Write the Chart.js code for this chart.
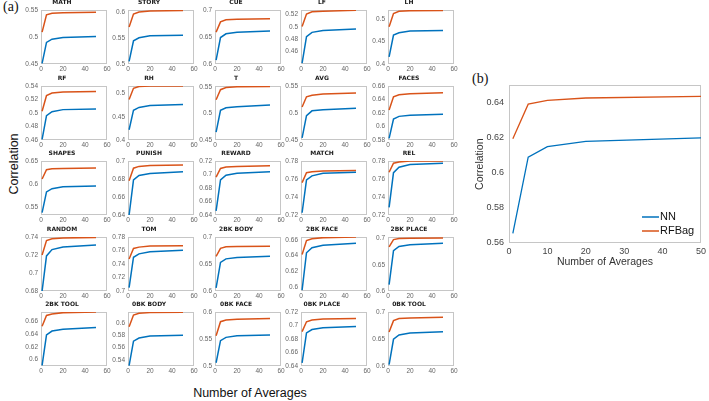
<!DOCTYPE html>
<html>
<head>
<meta charset="utf-8">
<script src="https://cdn.jsdelivr.net/npm/chart.js@4.4.1/dist/chart.umd.min.js"></script>
<style>
  body { margin: 0; background: #fff; }
  #fig { position: relative; width: 709px; height: 401px; overflow: hidden; font-family: "Liberation Sans", Arial, sans-serif; }
  #fig canvas { position: absolute; }
  .lbl { position: absolute; color: #111; white-space: nowrap; }
  .serif { font-family: "Liberation Serif", serif; font-size: 14px; }
</style>
</head>
<body>
<div id="fig">
  <div class="lbl serif" style="left:3px;top:-1px;">(a)</div>
  <div class="lbl serif" style="left:472px;top:71px;">(b)</div>
  <div class="lbl" style="left:14px;top:164px;font-size:12.5px;transform:translate(-50%,-50%) rotate(-90deg);">Correlation</div>
  <div class="lbl" style="left:250px;top:393px;font-size:12.5px;transform:translate(-50%,-50%);">Number of Averages</div>
</div>
<script>
// x positions of the points (number of averages)
const averages = [1, 5, 10, 20, 50];
const xTicksSmall = [0, 20, 40, 60];
const xTicksBig = [0, 10, 20, 30, 40, 50];

const panelTitles = ['MATH', 'STORY', 'CUE', 'LF', 'LH',
  'RF', 'RH', 'T', 'AVG', 'FACES',
  'SHAPES', 'PUNISH', 'REWARD', 'MATCH', 'REL',
  'RANDOM', 'TOM', '2BK BODY', '2BK FACE', '2BK PLACE',
  '2BK TOOL', '0BK BODY', '0BK FACE', '0BK PLACE', '0BK TOOL'];

const nnValues = [
  [0.451, 0.490, 0.496, 0.499, 0.501],
  [0.505, 0.545, 0.551, 0.555, 0.556],
  [0.607, 0.649, 0.656, 0.659, 0.661],
  [0.4415, 0.484, 0.491, 0.494, 0.4965],
  [0.416, 0.465, 0.470, 0.474, 0.475],
  [0.461, 0.496, 0.502, 0.505, 0.506],
  [0.422, 0.464, 0.470, 0.474, 0.476],
  [0.465, 0.506, 0.511, 0.513, 0.516],
  [0.454, 0.495, 0.504, 0.506, 0.509],
  [0.5825, 0.611, 0.615, 0.6165, 0.618],
  [0.538, 0.583, 0.590, 0.594, 0.596],
  [0.640, 0.679, 0.684, 0.686, 0.688],
  [0.646, 0.692, 0.699, 0.702, 0.704],
  [0.7225, 0.759, 0.7635, 0.7665, 0.7675],
  [0.7285, 0.767, 0.773, 0.776, 0.7775],
  [0.680, 0.719, 0.726, 0.729, 0.731],
  [0.705, 0.750, 0.755, 0.758, 0.7605],
  [0.606, 0.653, 0.6595, 0.662, 0.6645],
  [0.596, 0.6435, 0.650, 0.653, 0.6555],
  [0.612, 0.677, 0.685, 0.688, 0.691],
  [0.591, 0.639, 0.645, 0.648, 0.6505],
  [0.5305, 0.5705, 0.5755, 0.579, 0.580],
  [0.506, 0.547, 0.553, 0.556, 0.5575],
  [0.6445, 0.689, 0.694, 0.6965, 0.6985],
  [0.6025, 0.6495, 0.6575, 0.661, 0.6635]
];

const rfValues = [
  [0.509, 0.541, 0.544, 0.545, 0.546],
  [0.572, 0.597, 0.601, 0.603, 0.604],
  [0.659, 0.678, 0.682, 0.683, 0.684],
  [0.5005, 0.5205, 0.524, 0.525, 0.5265],
  [0.4836, 0.513, 0.518, 0.5195, 0.520],
  [0.5025, 0.526, 0.5295, 0.531, 0.532],
  [0.487, 0.511, 0.515, 0.516, 0.516],
  [0.526, 0.545, 0.549, 0.5505, 0.551],
  [0.511, 0.530, 0.533, 0.535, 0.537],
  [0.6245, 0.644, 0.647, 0.6485, 0.650],
  [0.611, 0.631, 0.633, 0.6335, 0.635],
  [0.678, 0.692, 0.694, 0.695, 0.6955],
  [0.696, 0.709, 0.711, 0.712, 0.713],
  [0.756, 0.767, 0.768, 0.769, 0.7695],
  [0.7675, 0.7775, 0.779, 0.780, 0.780],
  [0.720, 0.736, 0.738, 0.739, 0.7395],
  [0.7475, 0.763, 0.765, 0.7665, 0.767],
  [0.664, 0.679, 0.682, 0.6825, 0.683],
  [0.6413, 0.659, 0.6613, 0.6627, 0.6635],
  [0.684, 0.698, 0.700, 0.7005, 0.701],
  [0.6526, 0.6696, 0.672, 0.674, 0.675],
  [0.594, 0.613, 0.616, 0.617, 0.6175],
  [0.556, 0.582, 0.585, 0.5865, 0.588],
  [0.691, 0.7055, 0.708, 0.7095, 0.7105],
  [0.663, 0.684, 0.688, 0.689, 0.6905]
];

const yLimits = [
  [0.45, 0.55], [0.5, 0.605], [0.6, 0.7], [0.44, 0.527], [0.4, 0.521],
  [0.46, 0.54], [0.4, 0.516], [0.45, 0.552], [0.45, 0.55], [0.58, 0.66],
  [0.533, 0.65], [0.64, 0.7], [0.64, 0.72], [0.72, 0.78], [0.72, 0.78],
  [0.68, 0.74], [0.7, 0.78], [0.6, 0.7], [0.595, 0.6635], [0.6, 0.703],
  [0.59, 0.675], [0.53, 0.618], [0.5, 0.6], [0.64, 0.72], [0.6, 0.7]
];

const yTicks = [
  [0.45, 0.5, 0.55], [0.5, 0.55, 0.6], [0.6, 0.65, 0.7], [0.46, 0.48, 0.5, 0.52], [0.4, 0.45, 0.5],
  [0.46, 0.48, 0.5, 0.52, 0.54], [0.4, 0.45, 0.5], [0.45, 0.5, 0.55], [0.45, 0.5, 0.55], [0.58, 0.6, 0.62, 0.64, 0.66],
  [0.55, 0.6, 0.65], [0.64, 0.66, 0.68, 0.7], [0.64, 0.66, 0.68, 0.7, 0.72], [0.72, 0.74, 0.76, 0.78], [0.72, 0.74, 0.76, 0.78],
  [0.68, 0.7, 0.72, 0.74], [0.7, 0.72, 0.74, 0.76, 0.78], [0.6, 0.65, 0.7], [0.6, 0.62, 0.64, 0.66], [0.6, 0.65, 0.7],
  [0.6, 0.62, 0.64, 0.66], [0.54, 0.56, 0.58, 0.6], [0.5, 0.55, 0.6], [0.64, 0.66, 0.68, 0.7, 0.72], [0.6, 0.65, 0.7]
];

// panel (b): average over all contrasts
const avgNN = [0.5655, 0.609, 0.615, 0.618, 0.620];
const avgRF = [0.6195, 0.6393, 0.6415, 0.6428, 0.6437];
const avgYTicks = [0.56, 0.58, 0.6, 0.62, 0.64];

const NN_COLOR = '#0072BD';
const RF_COLOR = '#D95319';

const fig = document.getElementById('fig');
const fmt = v => String(parseFloat((+v).toFixed(3)));
const pts = vals => averages.map((a, i) => ({ x: a, y: vals[i] }));

// grey box round the plot area, like matlab "box on"
const boxPlugin = {
  id: 'box',
  beforeDatasetsDraw(chart) {
    const a = chart.chartArea, c = chart.ctx;
    c.save();
    c.strokeStyle = '#c6c6c6';
    c.lineWidth = 1;
    c.strokeRect(Math.round(a.left) + 0.5, Math.round(a.top) + 0.5,
      Math.round(a.right - a.left) - 1, Math.round(a.bottom - a.top) - 1);
    c.restore();
  }
};

// legend in the lower right corner of panel (b)
const cornerLegend = {
  id: 'cornerLegend',
  afterDraw(chart) {
    const a = chart.chartArea, c = chart.ctx;
    c.save();
    c.font = '11px "Liberation Sans", Arial, sans-serif';
    c.textBaseline = 'middle';
    chart.data.datasets.forEach((ds, i) => {
      const y = a.bottom - 26 + i * 14;
      c.strokeStyle = ds.borderColor;
      c.lineWidth = 1.5;
      c.beginPath();
      c.moveTo(a.right - 59, y);
      c.lineTo(a.right - 42, y);
      c.stroke();
      c.fillStyle = '#111';
      c.fillText(ds.label, a.right - 41, y);
    });
    c.restore();
  }
};

function addCanvas(left, top, w, h) {
  const cv = document.createElement('canvas');
  cv.width = w; cv.height = h;
  cv.style.left = left + 'px';
  cv.style.top = top + 'px';
  cv.style.width = w + 'px';
  cv.style.height = h + 'px';
  fig.appendChild(cv);
  return cv;
}

// small panels
const PW = 66, PH = 54, YW = 24, TH = 11, XH = 10, PR = 7;
const smallFont = { family: '"Liberation Sans", Arial, sans-serif', size: 6.5 };

panelTitles.forEach((title, k) => {
  const r = Math.floor(k / 5), col = k % 5;
  const plotLeft = 41 + 86.75 * col;
  const plotTop = 10 + 75.5 * r;
  const cv = addCanvas(Math.round(plotLeft - YW), Math.round(plotTop - TH), YW + PW + PR, TH + PH + XH);
  new Chart(cv.getContext('2d'), {
    type: 'line',
    data: {
      datasets: [
        { label: 'NN', data: pts(nnValues[k]), borderColor: NN_COLOR, borderWidth: 1.5, pointRadius: 0, tension: 0 },
        { label: 'RFBag', data: pts(rfValues[k]), borderColor: RF_COLOR, borderWidth: 1.5, pointRadius: 0, tension: 0 }
      ]
    },
    options: {
      responsive: false,
      animation: false,
      devicePixelRatio: 1,
      layout: { padding: { top: 0, right: PR, bottom: 0, left: 0 } },
      plugins: {
        legend: { display: false },
        tooltip: { enabled: false },
        title: {
          display: true, text: title, color: '#1a1a1a',
          font: { family: '"DejaVu Sans", sans-serif', size: 6, weight: 'bold' },
          padding: { top: 0, bottom: TH - 7.2 }
        }
      },
      scales: {
        x: {
          type: 'linear', min: 0, max: 60,
          afterBuildTicks: s => { s.ticks = xTicksSmall.map(v => ({ value: v })); },
          afterFit: s => { s.height = XH; },
          ticks: { font: smallFont, color: '#666', padding: 1, maxRotation: 0, autoSkip: false },
          grid: { display: false, drawTicks: false },
          border: { display: false }
        },
        y: {
          min: yLimits[k][0], max: yLimits[k][1],
          afterBuildTicks: s => { s.ticks = yTicks[k].map(v => ({ value: v })); },
          afterFit: s => { s.width = YW; },
          ticks: { font: smallFont, color: '#666', padding: 3, autoSkip: false, callback: fmt },
          grid: { display: false, drawTicks: false },
          border: { display: false }
        }
      }
    },
    plugins: [boxPlugin]
  });
});

// panel (b)
const bigFont = { family: '"Liberation Sans", Arial, sans-serif', size: 9 };
const cvB = addCanvas(460, 75, 249, 200);
new Chart(cvB.getContext('2d'), {
  type: 'line',
  data: {
    datasets: [
      { label: 'NN', data: pts(avgNN), borderColor: NN_COLOR, borderWidth: 1.3, pointRadius: 0, tension: 0 },
      { label: 'RFBag', data: pts(avgRF), borderColor: RF_COLOR, borderWidth: 1.3, pointRadius: 0, tension: 0 }
    ]
  },
  options: {
    responsive: false,
    animation: false,
    devicePixelRatio: 1,
    layout: { padding: { top: 8, right: 6, bottom: 0, left: 0 } },
    plugins: { legend: { display: false }, tooltip: { enabled: false } },
    scales: {
      x: {
        type: 'linear', min: 0, max: 50,
        afterBuildTicks: s => { s.ticks = xTicksBig.map(v => ({ value: v })); },
        afterFit: s => { s.height = 32; },
        ticks: { font: bigFont, color: '#444', padding: 3, maxRotation: 0, autoSkip: false },
        grid: { display: false, drawTicks: false },
        border: { display: false },
        title: { display: true, text: 'Number of Averages', color: '#333',
          font: { family: '"Liberation Sans", Arial, sans-serif', size: 10.5 }, padding: { top: 0, bottom: 7 } }
      },
      y: {
        min: 0.56, max: 0.65,
        afterBuildTicks: s => { s.ticks = avgYTicks.map(v => ({ value: v })); },
        afterFit: s => { s.width = 49; },
        ticks: { font: bigFont, color: '#444', padding: 5, autoSkip: false, callback: fmt },
        grid: { display: false, drawTicks: false },
        border: { display: false },
        title: { display: true, text: 'Correlation', color: '#333',
          font: { family: '"Liberation Sans", Arial, sans-serif', size: 10.5 }, padding: { top: 14, bottom: 0 } }
      }
    }
  },
  plugins: [boxPlugin, cornerLegend]
});
</script>
</body>
</html>
